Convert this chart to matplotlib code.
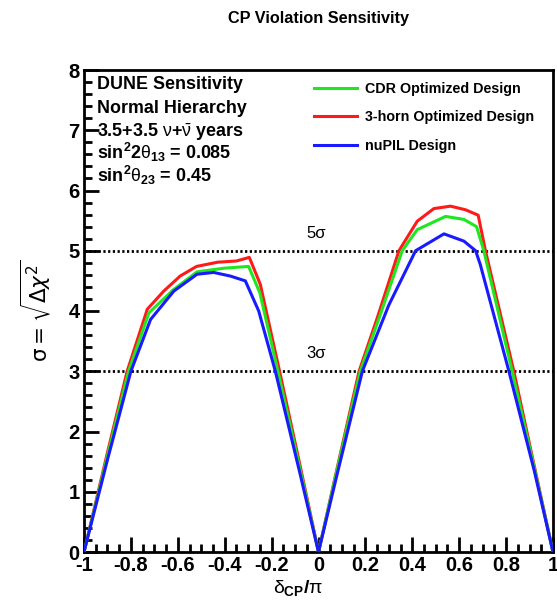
import numpy as np
import matplotlib
matplotlib.use("Agg")
import matplotlib.pyplot as plt
from matplotlib.ticker import MultipleLocator, FuncFormatter

plt.rcParams["font.family"] = ["Liberation Sans", "DejaVu Sans"]
plt.rcParams["mathtext.fontset"] = "custom"
plt.rcParams["mathtext.rm"] = "Liberation Sans"
plt.rcParams["mathtext.it"] = "Liberation Sans"
plt.rcParams["mathtext.bf"] = "Liberation Sans:bold"
plt.rcParams["axes.unicode_minus"] = False

GREEN = "#1fe61f"; RED = "#ff1a1a"; BLUE = "#1a1aff"

# values (delta_CP / pi, sigma)
cdr_x = [-1, -0.9, -0.81, -0.723, -0.62, -0.518, -0.404, -0.298, -0.25, -0.173, -0.08, 0,
         0.08, 0.178, 0.26, 0.357, 0.421, 0.542, 0.62, 0.674, 0.705, 0.826, 0.92, 1.0]
cdr_y = [0, 1.6, 3.0, 3.97, 4.35, 4.65, 4.71, 4.74, 4.3, 3.0, 1.4, 0,
         1.38, 3.0, 3.9, 5.0, 5.35, 5.57, 5.52, 5.40, 5.0, 3.0, 1.4, 0]

horn3_x = [-1, -0.9, -0.816, -0.73, -0.66, -0.59, -0.52, -0.43, -0.35, -0.295, -0.248, -0.166, -0.08, 0,
           0.08, 0.173, 0.251, 0.343, 0.421, 0.492, 0.563, 0.627, 0.681, 0.712, 0.833, 0.92, 1.0]
horn3_y = [0, 1.65, 3.0, 4.03, 4.33, 4.58, 4.74, 4.81, 4.83, 4.89, 4.44, 3.0, 1.46, 0,
           1.4, 3.0, 3.89, 5.0, 5.49, 5.70, 5.74, 5.68, 5.59, 5.0, 3.0, 1.43, 0]

nupil_x = [-1, -0.9, -0.80, -0.716, -0.617, -0.518, -0.447, -0.376, -0.312, -0.255, -0.184, -0.08, 0,
           0.08, 0.187, 0.30, 0.414, 0.535, 0.62, 0.67, 0.69, 0.812, 0.92, 1.0]
nupil_y = [0, 1.53, 3.0, 3.86, 4.33, 4.61, 4.64, 4.58, 4.50, 4.0, 3.0, 1.32, 0,
           1.3, 3.0, 4.1, 5.0, 5.28, 5.16, 5.0, 4.77, 3.0, 1.35, 0]

labels = ["CDR Optimized Design", "3-horn Optimized Design", "nuPIL Design"]
info = ["DUNE Sensitivity", "Normal Hierarchy",
        r"3.5+3.5 $\nu$+$\bar{\nu}$ years",
        r"sin$^\mathbf{2}$2$\theta_\mathbf{13}$ = 0.085",
        r"sin$^\mathbf{2}$$\theta_\mathbf{23}$ = 0.45"]

fig = plt.figure(figsize=(5.57, 6.03), dpi=100)
ax = fig.add_axes([84/557, 51/603, 469/557, 482/603])

ax.plot(cdr_x, cdr_y, color=GREEN, lw=2.2, label=labels[0], zorder=3)
ax.plot(horn3_x, horn3_y, color=RED, lw=2.2, label=labels[1], zorder=2)
ax.plot(nupil_x, nupil_y, color=BLUE, lw=2.2, label=labels[2], zorder=4)

for lev in (3, 5):
    ax.axhline(lev, color="black", lw=2.0, ls=(0, (0.8, 0.9)), zorder=1)
ax.text(-0.05, 5.29, "5σ", fontsize=12, va="center", ha="left")
ax.text(-0.05, 3.30, "3σ", fontsize=12, va="center", ha="left")

ax.set_xlim(-1, 1); ax.set_ylim(0, 8)
ax.xaxis.set_major_locator(MultipleLocator(0.2))
ax.xaxis.set_minor_locator(MultipleLocator(0.05))
ax.yaxis.set_major_locator(MultipleLocator(1))
ax.yaxis.set_minor_locator(MultipleLocator(0.2))
ax.xaxis.set_major_formatter(FuncFormatter(lambda v, p: f"{round(v, 2):g}" if abs(v) > 1e-9 else "0"))
ax.tick_params(which="both", direction="in", width=2.0, labelsize=14.5)
ax.tick_params(which="major", length=11, pad=3)
ax.tick_params(which="minor", length=5.5)
for lab in ax.get_xticklabels() + ax.get_yticklabels():
    lab.set_fontweight("bold")
for s in ax.spines.values():
    s.set_linewidth(2.0)

ax.set_xlabel(r"$\delta_\mathbf{CP}$/$\pi$", fontsize=14, fontweight="bold")
ax.xaxis.set_label_coords(0.456, -0.054)
ax.set_ylabel(r"$\mathrm{\sigma} = \sqrt{\Delta\chi^2}$", fontsize=15.5, math_fontfamily="dejavusans")
ax.yaxis.set_label_coords(-0.066, 0.5)

fig.text(318/557, 1 - 18/603, "CP Violation Sensitivity", fontsize=11.7, fontweight="bold",
         ha="center", va="center")

ys = [7.68, 7.29, 6.89, 6.53, 6.14]
for t, yy in zip(info, ys):
    ax.text(-0.945, yy, t, fontsize=12.9, fontweight="bold", va="baseline", ha="left")

ax.legend(loc="upper left", bbox_to_anchor=(0.463, 1.002), frameon=False,
          handlelength=3.0, handletextpad=0.55, labelspacing=1.0,
          prop={"weight": "bold", "size": 10.3})

fig.savefig("out.png", dpi=100)
